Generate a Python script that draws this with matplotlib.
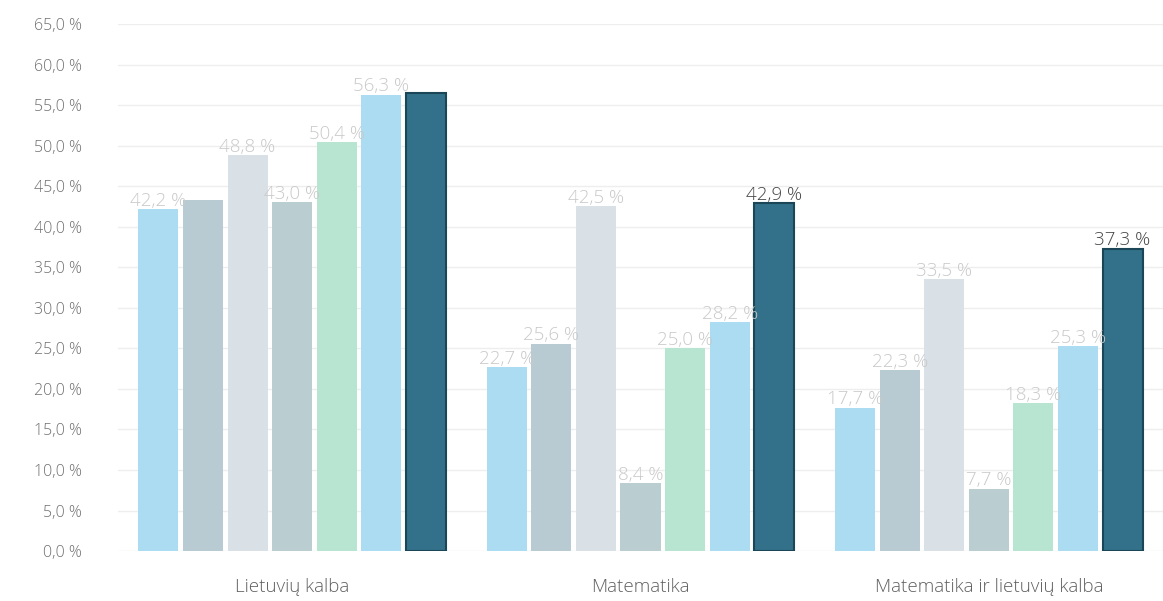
import numpy as np
import matplotlib.pyplot as plt

categories = ['Lietuvių kalba', 'Matematika', 'Matematika ir lietuvių kalba']
# seven series per category, left to right
series_values = [
    [42.2, 22.7, 17.7],
    [43.3, 25.6, 22.3],
    [48.8, 42.5, 33.5],
    [43.0, 8.4, 7.7],
    [50.4, 25.0, 18.3],
    [56.3, 28.2, 25.3],
    [56.5, 42.9, 37.3],
]
# (series, category) pairs whose value label is not shown in the original
hidden_labels = [(1, 0), (6, 0)]
y_ticks = np.arange(0, 70, 5)

colors = ['#abdcf2', '#b8cbd2', '#d9e0e6', '#bacdd1', '#b8e5d1', '#abdcf2', '#33718a']
label_colors = ['#c9c9c9'] * 6 + ['#444444']
fam = ['Open Sans', 'DejaVu Sans']


def fmt(v):
    return f'{v:.1f}'.replace('.', ',') + ' %'


fig = plt.figure(figsize=(11.63, 6.01), dpi=100)
ax = fig.add_axes([0.1015, 0.083, 0.8985, 0.877])

x = np.arange(len(categories))
step = 0.128
width = 0.115
n = len(series_values)
for i, vals in enumerate(series_values):
    pos = x + (i - (n - 1) / 2) * step
    if i == n - 1:
        ax.bar(pos, vals, width, color=colors[i], edgecolor='#1b4658', linewidth=1.5, zorder=3)
    else:
        ax.bar(pos, vals, width, color=colors[i], zorder=3)
    for j, (p, v) in enumerate(zip(pos, vals)):
        if (i, j) in hidden_labels:
            continue
        ax.text(p, v - 0.1, fmt(v), ha='center', va='bottom', fontsize=13.5,
                color=label_colors[i], zorder=4, family=fam, fontweight='light')

ax.set_xlim(-0.5, 2.5)
ax.set_ylim(0, 65)
ax.set_yticks(y_ticks)
ax.set_yticklabels([fmt(t) for t in y_ticks], family=fam, fontweight='light')
ax.set_xticks(x)
ax.set_xticklabels(categories, family=fam, fontweight='light')
ax.grid(axis='y', color='#eeeeee', linewidth=1, zorder=0)
for s in ax.spines.values():
    s.set_visible(False)
ax.tick_params(axis='y', length=0, pad=26, labelsize=11.5, labelcolor='#707070')
ax.tick_params(axis='x', length=0, pad=19, labelsize=13.5, labelcolor='#606060')

fig.savefig('out.png', dpi=100)
